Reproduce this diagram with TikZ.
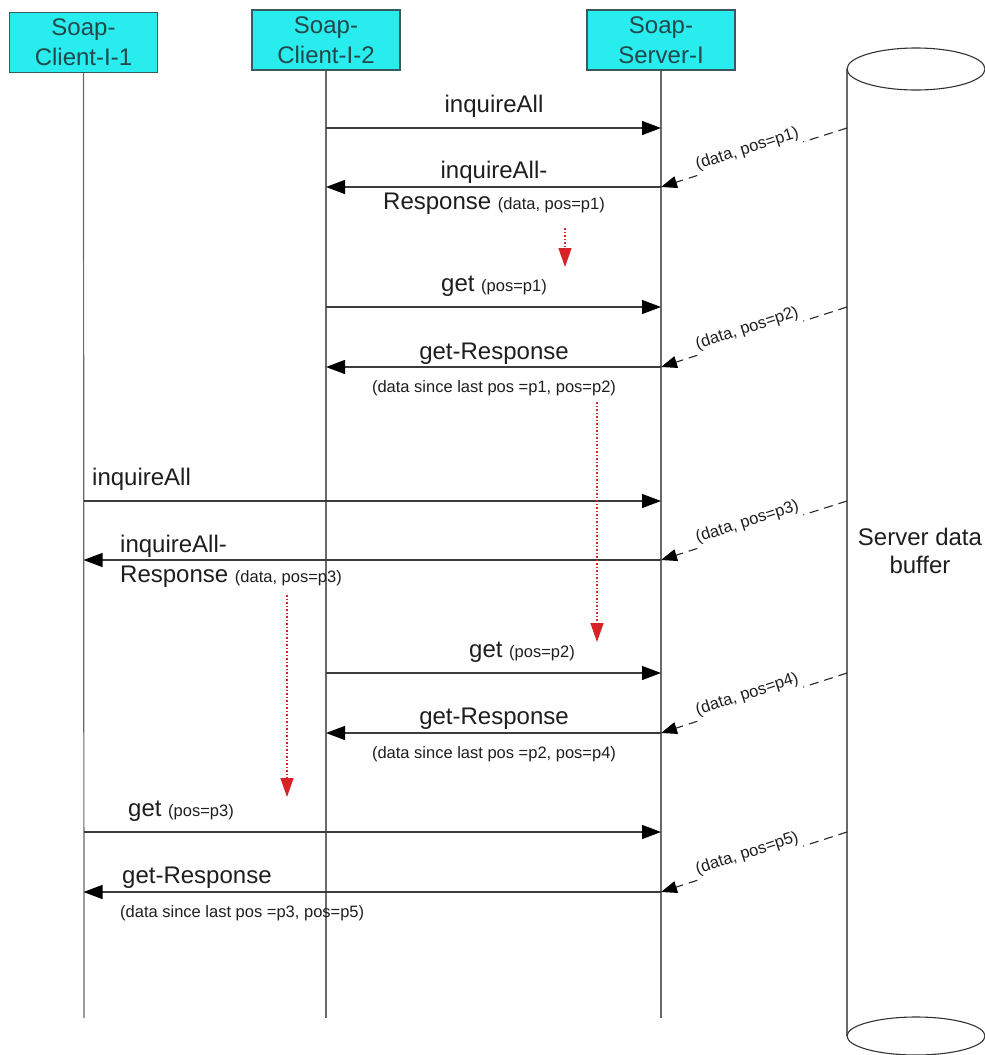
\documentclass[tikz,border=0pt]{standalone}
\usepackage{fontspec}
\setmainfont{Liberation Sans}
\usetikzlibrary{arrows.meta}

\definecolor{headfill}{RGB}{40,236,238}
\definecolor{headedge}{RGB}{55,90,92}
\definecolor{headtext}{RGB}{35,72,74}
\definecolor{lifegray}{RGB}{105,105,105}
\definecolor{msggray}{RGB}{60,60,60}
\definecolor{hintred}{RGB}{215,35,40}
\definecolor{inktext}{RGB}{30,30,30}

\newcommand\bigsize{\fontsize{24}{30}\selectfont}
\newcommand\smallsize{\fontsize{16.5}{19}\selectfont}

\begin{document}
\begin{tikzpicture}[x=1pt,y=-1pt,
  header/.style={draw=headedge, line width=1.3pt, fill=headfill,
    minimum width=148pt, minimum height=60pt, inner sep=0pt,
    align=center, font=\bigsize, text=headtext},
  lifeline/.style={draw=lifegray, line width=1.2pt},
  msg/.style={draw=msggray, line width=1.2pt,
    -{Triangle[length=19pt,width=14pt,color=black]}},
  feed/.style={draw=black!85, line width=1.1pt, dash pattern=on 9pt off 6pt},
  feedtip/.style={feed, -{Triangle[length=16pt,width=12pt,color=black]}},
  feedlbl/.style={font=\smallsize, text=inktext, inner sep=2pt,
    sloped, anchor=south, pos=0.52},
  hint/.style={draw=hintred, line width=1.5pt, dotted,
    -{Triangle[length=19pt,width=13pt,color=hintred]}},
  biglbl/.style={font=\bigsize, text=inktext, inner sep=0pt, anchor=base},
  bigleft/.style={biglbl, anchor=base west},
  smalllbl/.style={font=\smallsize, text=inktext, inner sep=0pt, anchor=base},
  smallleft/.style={smalllbl, anchor=base west}
]
\useasboundingbox (0,0) rectangle (985,1055);

% participants
\node[header] (c1) at (83.5,42.5) {Soap-\\Client-I-1};
\node[header] (c2) at (326,40) {Soap-\\Client-I-2};
\node[header] (sv) at (661,40) {Soap-\\Server-I};

% lifeline ends
\coordinate (c1end) at (84,1018);
\coordinate (c2end) at (326,1018);
\coordinate (svend) at (661,1018);
\draw[lifeline] (c1.south) -- (c1end);
\draw[lifeline] (c2.south) -- (c2end);
\draw[lifeline] (sv.south) -- (svend);

% server data buffer (cylinder)
\coordinate (cyltop) at (847,69);
\coordinate (cylbot) at (847,1036);
\draw[lifeline] (cyltop) -- (cylbot);
\draw[draw=black!80, line width=1.1pt] (916,69) ellipse [x radius=69, y radius=21];
\draw[draw=black!80, line width=1.1pt] (916,1036) ellipse [x radius=69, y radius=19];
\node[biglbl] (bufA) at (920,545) {Server data};
\node[biglbl] (bufB) at (920,573) {buffer};

% message rows
\coordinate (r1) at (0,128);
\coordinate (r2) at (0,187);
\coordinate (r3) at (0,307);
\coordinate (r4) at (0,367);
\coordinate (r5) at (0,501);
\coordinate (r6) at (0,560);
\coordinate (r7) at (0,673);
\coordinate (r8) at (0,733);
\coordinate (r9) at (0,832);
\coordinate (r10) at (0,892);

% messages
\draw[msg] (c2 |- r1) -- (sv |- r1);
\draw[msg] (sv |- r2) -- (c2 |- r2);
\draw[msg] (c2 |- r3) -- (sv |- r3);
\draw[msg] (sv |- r4) -- (c2 |- r4);
\draw[msg] (c1 |- r5) -- (sv |- r5);
\draw[msg] (sv |- r6) -- (c1 |- r6);
\draw[msg] (c2 |- r7) -- (sv |- r7);
\draw[msg] (sv |- r8) -- (c2 |- r8);
\draw[msg] (c1 |- r9) -- (sv |- r9);
\draw[msg] (sv |- r10) -- (c1 |- r10);

% message labels
\node[biglbl] (m1) at (494,112) {inquireAll};
\node[biglbl] (m2a) at (494,178) {inquireAll-};
\node[biglbl] (m2b) at (494,209) {Response {\smallsize (data, pos=p1)}};
\node[biglbl] (m3) at (494,291) {get {\smallsize (pos=p1)}};
\node[biglbl] (m4a) at (494,359) {get-Response};
\node[smalllbl] (m4b) at (494,392) {(data since last pos =p1, pos=p2)};
\node[bigleft] (m5) at (92,485) {inquireAll};
\node[bigleft] (m6a) at (120,552) {inquireAll-};
\node[bigleft] (m6b) at (120,582) {Response {\smallsize (data, pos=p3)}};
\node[bigleft] (m7) at (469,657) {get {\smallsize (pos=p2)}};
\node[biglbl] (m8a) at (494,724) {get-Response};
\node[smalllbl] (m8b) at (494,758) {(data since last pos =p2, pos=p4)};
\node[bigleft] (m9) at (128,816) {get {\smallsize (pos=p3)}};
\node[bigleft] (m10a) at (122,883) {get-Response};
\node[smallleft] (m10b) at (120,917) {(data since last pos =p3, pos=p5)};

% data handed from the buffer to the server
\coordinate (cyl) at (847,0);
\path (cyl |- r1) -- node[feedlbl] (d1) {(data, pos=p1)} (sv |- r2);
\draw[feed] (cyl |- r1) -- (d1.south east);
\draw[feedtip] (d1.south west) -- (sv |- r2);
\path (cyl |- r3) -- node[feedlbl] (d2) {(data, pos=p2)} (sv |- r4);
\draw[feed] (cyl |- r3) -- (d2.south east);
\draw[feedtip] (d2.south west) -- (sv |- r4);
\path (cyl |- r5) -- node[feedlbl] (d3) {(data, pos=p3)} (sv |- r6);
\draw[feed] (cyl |- r5) -- (d3.south east);
\draw[feedtip] (d3.south west) -- (sv |- r6);
\path (cyl |- r7) -- node[feedlbl] (d4) {(data, pos=p4)} (sv |- r8);
\draw[feed] (cyl |- r7) -- (d4.south east);
\draw[feedtip] (d4.south west) -- (sv |- r8);
\path (cyl |- r9) -- node[feedlbl] (d5) {(data, pos=p5)} (sv |- r10);
\draw[feed] (cyl |- r9) -- (d5.south east);
\draw[feedtip] (d5.south west) -- (sv |- r10);

% waiting hints between polls
\coordinate (h1s) at (565,228);
\coordinate (h1e) at (565,267);
\coordinate (h2s) at (597,402);
\coordinate (h2e) at (597,642);
\coordinate (h3s) at (287,595);
\coordinate (h3e) at (287,797);
\draw[hint] (h1s) -- (h1e);
\draw[hint] (h2s) -- (h2e);
\draw[hint] (h3s) -- (h3e);
\end{tikzpicture}
\end{document}
